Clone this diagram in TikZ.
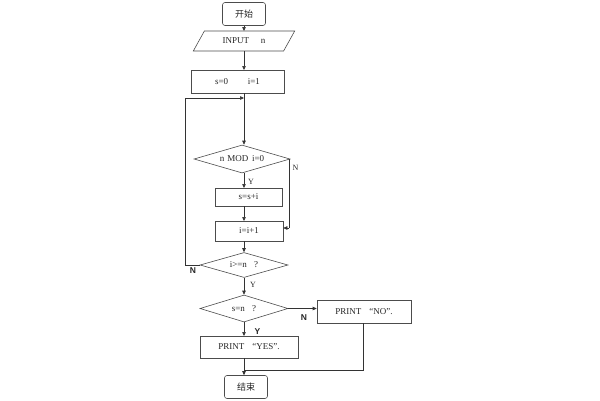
\documentclass[tikz,border=0pt]{standalone}
\usepackage{fontspec}
\setmainfont{Liberation Serif}
\newfontfamily\labfont{Liberation Sans}
\newfontfamily\cjk{Noto Sans CJK SC}
\usetikzlibrary{shapes.geometric,arrows.meta}
\begin{document}
\begin{tikzpicture}[x=1pt,y=-1pt,
  every node/.style={font=\fontsize{9}{10}\selectfont, text=black!85},
  line/.style={draw=black!80, line width=0.6pt},
  arr/.style={line, -{Triangle[length=4pt,width=3.5pt]}},
  term/.style={draw=black!70, line width=0.6pt, rounded corners=2.5pt, minimum width=43pt, minimum height=23pt, inner sep=0pt},
  proc/.style={draw=black!70, line width=0.6pt, rectangle, inner sep=0pt},
  dec/.style={draw=black!70, line width=0.6pt, diamond, inner sep=0pt},
  io/.style={draw=black!70, line width=0.6pt, trapezium, trapezium left angle=45, trapezium right angle=135, trapezium stretches=true, inner sep=0pt},
  lab/.style={font=\labfont\bfseries\fontsize{8.5}{10}\selectfont},
  slab/.style={font=\fontsize{8}{10}\selectfont}]
\useasboundingbox (0,0) rectangle (600,400);
\node[term] (start) at (244,14) {\cjk 开始};
\node[io, minimum width=102pt, minimum height=20pt] (input) at (244,41) {INPUT\hspace{1.3em}n};
\node[proc, minimum width=93pt, minimum height=23pt] (init) at (237.5,81.5) {s=0\hspace{2.2em}i=1};
\node[dec, minimum width=96pt, minimum height=28pt, aspect=3.4] (d1) at (242,159) {n\hspace{0.35em}MOD\hspace{0.4em}i=0};
\node[proc, minimum width=67pt, minimum height=18pt] (sum) at (248.5,197) {s=s+i};
\node[proc, minimum width=68pt, minimum height=20pt] (incr) at (249,231) {i=i+1};
\node[dec, minimum width=88pt, minimum height=25pt, aspect=3.5] (d2) at (244,265) {i>=n\hspace{0.8em}?};
\node[dec, minimum width=88pt, minimum height=27pt, aspect=3.3] (d3) at (244,308.5) {s=n\hspace{0.8em}?};
\node[proc, minimum width=94pt, minimum height=23pt] (no) at (364,311.5) {PRINT\hspace{0.9em}“NO”.};
\node[proc, minimum width=98pt, minimum height=22pt] (yes) at (249,347) {PRINT\hspace{0.9em}“YES”.};
\node[term] (stop) at (246,387) {\cjk 结束};
\coordinate (loopin) at (244,98);
\coordinate (loopl) at (185,98);
\coordinate (loopb) at (185,265);
\coordinate (nr1) at (289,159);
\coordinate (nr2) at (289,228);
\coordinate (merge) at (244,370);
\coordinate (nod) at (363,370);
% connectors
\draw[arr] (start.south) -- (244,31);
\draw[arr] (244,51) -- (244,70);
\draw[line] (244,93) -- (loopin);
\draw[arr] (loopin) -- (d1.north -| loopin);
\draw[arr] (d1.south -| loopin) -- (244,188);
\draw[arr] (244,206) -- (244,221);
\draw[arr] (244,241) -- (d2.north);
\draw[arr] (d2.south) -- (d3.north);
\draw[line] (d1.east) -- (nr1) -- (nr2);
\draw[arr] (nr2) -- (nr2 -| incr.east);
\draw[line] (d2.west) -- (loopb) -- (loopl);
\draw[arr] (loopl) -- (loopin);
\draw[arr] (d3.east) -- (no.west |- d3.east);
\draw[arr] (d3.south) -- (244,336);
\draw[line] (244,358) -- (merge);
\draw[line] (no.south -| nod) -- (nod) -- (merge);
\draw[arr] (merge) -- (stop.north -| merge);
% labels
\node[slab] (ly1) at (251,181.5) {Y};
\node[slab] (ln1) at (295.5,168) {N};
\node[lab] (ln2) at (193,271) {N};
\node[slab] (ly2) at (253,285) {Y};
\node[lab] (ln3) at (304,318) {N};
\node[lab] (ly3) at (257.5,331.5) {Y};
\end{tikzpicture}
\end{document}
